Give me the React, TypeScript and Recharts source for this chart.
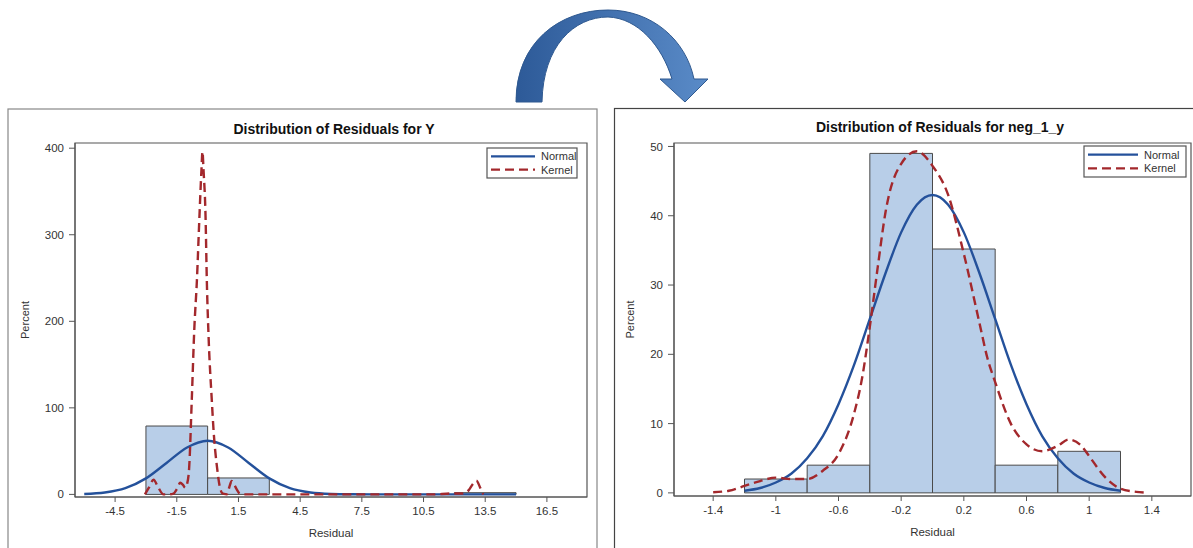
import { ComposedChart, Line, XAxis, YAxis, ReferenceArea, Label } from "recharts";

const FONT = "'Liberation Sans', Arial, sans-serif";
const BAR_FILL = "#b8cee8";
const BAR_EDGE = "#4a4a4a";
const NORMAL_COLOR = "#24519b";
const KERNEL_COLOR = "#a3282c";
const TEXT_COLOR = "#333";

// ---- left panel: residuals for Y ----
const yBinStart = [-3, 0, 3, 6, 9, 12];
const yBinPct = [79, 19, 0, 0, 0, 2];
const yBinWidth = 3;
const yXTicks = [-4.5, -1.5, 1.5, 4.5, 7.5, 10.5, 13.5, 16.5];
const yYTicks = [0, 100, 200, 300, 400];

const yNormalX = [-6, -5, -4, -3, -2, -1, 0, 1, 2, 3, 4, 5, 6, 7, 8, 10, 12, 15];
const yNormalPct = [0.5, 2.2, 7.2, 18.5, 36.3, 54.2, 62, 54.2, 36.3, 18.5, 7.2, 2.2, 0.5, 0.1, 0, 0, 0, 0];

const yKernelX = [
  -3.05, -2.85, -2.63, -2.4, -2.15, -1.9, -1.66, -1.5, -1.33, -1.2, -1.09, -1.0, -0.9, -0.77, -0.65, -0.52,
  -0.4, -0.3, -0.25, -0.2, -0.1, -0.04, 0.05, 0.2, 0.3, 0.45, 0.6, 0.69, 0.8, 0.93, 1.05, 1.17, 1.3, 1.41,
  1.55, 1.66, 2.5, 5, 8, 11, 11.8, 12.4, 12.7, 12.9, 13.07, 13.25, 13.4,
];
const yKernelPct = [
  0, 8, 17, 8, 0, 0, 1, 6, 13.5, 11, 7.7, 12, 30, 110, 190, 248, 320, 375, 396, 375, 320, 248, 180, 110, 70,
  32.7, 8, 2, 0.5, 0, 8, 15.4, 11, 6, 1, 0, 0, 0, 0, 0, 1, 1, 5, 12, 16, 8, 0,
];

// ---- right panel: residuals for neg_1_y ----
const nBinStart = [-1.2, -0.8, -0.4, 0, 0.4, 0.8];
const nBinPct = [2, 4, 49, 35.2, 4, 6];
const nBinWidth = 0.4;
const nXTicks = [-1.4, -1, -0.6, -0.2, 0.2, 0.6, 1, 1.4];
const nYTicks = [0, 10, 20, 30, 40, 50];

const nNormalX = [
  -1.2, -1.1, -1.0, -0.9, -0.8, -0.7, -0.6, -0.5, -0.4, -0.3, -0.2, -0.1, 0, 0.1, 0.2, 0.3, 0.4, 0.5, 0.6, 0.7,
  0.8, 0.9, 1.0, 1.1, 1.2,
];
const nNormalPct = [
  0.3, 0.7, 1.5, 2.8, 5.0, 8.2, 12.8, 18.5, 25.1, 31.7, 37.6, 41.6, 43, 41.6, 37.6, 31.7, 25.1, 18.5, 12.8,
  8.2, 5.0, 2.8, 1.5, 0.7, 0.3,
];

const nKernelX = [
  -1.4, -1.3, -1.2, -1.1, -1.0, -0.9, -0.8, -0.7, -0.6, -0.5, -0.45, -0.4, -0.35, -0.3, -0.2, -0.1, 0, 0.1,
  0.2, 0.3, 0.35, 0.4, 0.5, 0.6, 0.7, 0.8, 0.87, 0.95, 1.0, 1.1, 1.2, 1.3, 1.35,
];
const nKernelPct = [
  0.1, 0.3, 1.0, 1.7, 2.2, 2.0, 2.0, 3.2, 5.6, 11.5, 16.5, 24, 32.5, 40.5, 47.5, 49.3, 47.2, 43, 34.5, 24.5,
  19.5, 16, 10, 7, 6.0, 6.8, 7.7, 6.8, 5.3, 2.3, 0.6, 0.15, 0.05,
];

const toPoints = (xs: number[], ys: number[]) => xs.map((x, i) => ({ x, y: ys[i] }));

type PanelProps = {
  width: number;
  margin: { top: number; right: number; bottom: number; left: number };
  yAxisWidth: number;
  xDomain: [number, number];
  yDomain: [number, number];
  xTicks: number[];
  yTicks: number[];
  binStart: number[];
  binPct: number[];
  binWidth: number;
  normal: { x: number; y: number }[];
  kernel: { x: number; y: number }[];
  percentOffset: number;
};

function ResidualPanel(p: PanelProps) {
  const tick = { fontSize: 11.5, fill: TEXT_COLOR, fontFamily: FONT };
  return (
    <ComposedChart width={p.width} height={548} margin={p.margin}>
      <XAxis
        dataKey="x"
        type="number"
        domain={p.xDomain}
        ticks={p.xTicks}
        allowDataOverflow
        height={44}
        tick={tick}
        tickSize={5}
        tickMargin={5}
        stroke="#555"
        interval={0}
      >
        <Label
          value="Residual"
          position="insideBottom"
          offset={4}
          style={{ fontSize: 11.5, fill: TEXT_COLOR, fontFamily: FONT }}
        />
      </XAxis>
      <YAxis
        type="number"
        domain={p.yDomain}
        ticks={p.yTicks}
        allowDataOverflow
        width={p.yAxisWidth}
        tick={tick}
        tickSize={6}
        tickMargin={5}
        stroke="#555"
        interval={0}
      >
        <Label
          value="Percent"
          angle={-90}
          position="insideLeft"
          offset={p.percentOffset}
          style={{ fontSize: 11, fill: TEXT_COLOR, fontFamily: FONT, textAnchor: "middle" }}
        />
      </YAxis>
      {p.binStart.map((start, i) =>
        p.binPct[i] > 0 ? (
          <ReferenceArea
            key={i}
            x1={start}
            x2={start + p.binWidth}
            y1={0}
            y2={p.binPct[i]}
            fill={BAR_FILL}
            fillOpacity={1}
            stroke={BAR_EDGE}
            strokeWidth={1}
          />
        ) : null
      )}
      <ReferenceArea
        x1={p.xDomain[0]}
        x2={p.xDomain[1]}
        y1={p.yDomain[0]}
        y2={p.yDomain[1]}
        fill="none"
        stroke="#555"
        strokeWidth={1.2}
      />
      <Line
        data={p.normal}
        dataKey="y"
        type="monotone"
        stroke={NORMAL_COLOR}
        strokeWidth={2.4}
        dot={false}
        activeDot={false}
        isAnimationActive={false}
      />
      <Line
        data={p.kernel}
        dataKey="y"
        type="monotone"
        stroke={KERNEL_COLOR}
        strokeWidth={2.4}
        strokeDasharray="9 5"
        dot={false}
        activeDot={false}
        isAnimationActive={false}
      />
    </ComposedChart>
  );
}

function LegendBox({ x, y, w, h, lineLen }: { x: number; y: number; w: number; h: number; lineLen: number }) {
  const rowA = y + h * 0.28;
  const rowB = y + h * 0.72;
  return (
    <g>
      <rect x={x} y={y} width={w} height={h} fill="#fff" stroke="#555" strokeWidth={1.2} />
      <line x1={x + 4} x2={x + 4 + lineLen} y1={rowA} y2={rowA} stroke={NORMAL_COLOR} strokeWidth={2.2} />
      <line
        x1={x + 4}
        x2={x + 4 + lineLen}
        y1={rowB}
        y2={rowB}
        stroke={KERNEL_COLOR}
        strokeWidth={2.2}
        strokeDasharray="9 5"
      />
      <text x={x + lineLen + 10} y={rowA + 4} fontSize={11} fill={TEXT_COLOR} fontFamily={FONT}>
        Normal
      </text>
      <text x={x + lineLen + 10} y={rowB + 4} fontSize={11} fill={TEXT_COLOR} fontFamily={FONT}>
        Kernel
      </text>
    </g>
  );
}

export default function App() {
  return (
    <div
      style={{
        position: "absolute",
        left: 0,
        top: 0,
        width: 1193,
        height: 548,
        overflow: "hidden",
        background: "#fff",
        fontFamily: FONT,
      }}
    >
      {/* panel frames and the arrow */}
      <svg width={1193} height={548} style={{ position: "absolute", left: 0, top: 0 }}>
        <defs>
          <linearGradient id="arrowFill" x1="0" y1="0" x2="1" y2="0">
            <stop offset="0%" stopColor="#2d5a98" />
            <stop offset="100%" stopColor="#5a8bc8" />
          </linearGradient>
        </defs>
        <rect x={8} y={109} width={589} height={460} fill="#fff" stroke="#888" strokeWidth={1.2} />
        <rect x={614.5} y={108.5} width={600} height={460} fill="#fff" stroke="#444" strokeWidth={1.2} />
        <path
          d="M 516 102 C 516 42, 560 10, 608 10 C 652 10, 686 40, 694 79 L 708 79 L 685 102 L 660 79 L 672 79 C 662 46, 638 18, 608 17 C 574 17, 543 46, 542 102 Z"
          fill="url(#arrowFill)"
          stroke="#2f5990"
          strokeWidth={1}
        />
      </svg>

      <div style={{ position: "absolute", left: 0, top: 0 }}>
        <ResidualPanel
          width={600}
          margin={{ top: 143, right: 13, bottom: 7, left: 0 }}
          yAxisWidth={75}
          xDomain={[-6.45, 18.45]}
          yDomain={[-3, 406]}
          xTicks={yXTicks}
          yTicks={yYTicks}
          binStart={yBinStart}
          binPct={yBinPct}
          binWidth={yBinWidth}
          normal={toPoints(yNormalX, yNormalPct)}
          kernel={toPoints(yKernelX, yKernelPct)}
          percentOffset={25}
        />
      </div>

      <div style={{ position: "absolute", left: 600, top: 0 }}>
        <ResidualPanel
          width={593}
          margin={{ top: 143, right: 2, bottom: 8, left: 0 }}
          yAxisWidth={74}
          xDomain={[-1.65, 1.65]}
          yDomain={[-0.45, 50.5]}
          xTicks={nXTicks}
          yTicks={nYTicks}
          binStart={nBinStart}
          binPct={nBinPct}
          binWidth={nBinWidth}
          normal={toPoints(nNormalX, nNormalPct)}
          kernel={toPoints(nKernelX, nKernelPct)}
          percentOffset={30}
        />
      </div>

      {/* titles and legends */}
      <svg width={1193} height={548} style={{ position: "absolute", left: 0, top: 0, pointerEvents: "none" }}>
        <text x={334} y={134} textAnchor="middle" fontSize={14} fontWeight="bold" fill="#111" fontFamily={FONT}>
          Distribution of Residuals for Y
        </text>
        <text x={940} y={132} textAnchor="middle" fontSize={14} fontWeight="bold" fill="#111" fontFamily={FONT}>
          Distribution of Residuals for neg_1_y
        </text>
        <LegendBox x={487} y={148} w={90} h={30} lineLen={44} />
        <LegendBox x={1084} y={146} w={102} h={31} lineLen={50} />
      </svg>
    </div>
  );
}
